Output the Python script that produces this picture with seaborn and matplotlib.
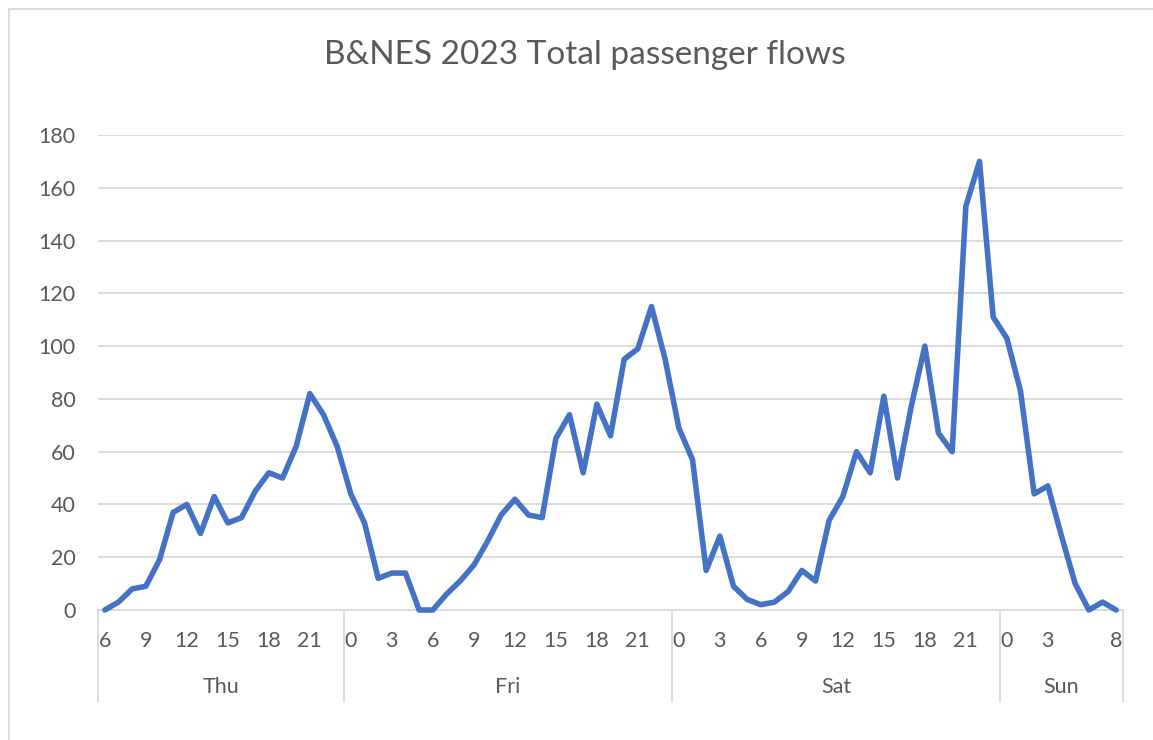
import numpy as np
import pandas as pd
import matplotlib
matplotlib.use("Agg")
import matplotlib.pyplot as plt
import matplotlib.transforms as mtransforms
from matplotlib.patches import Rectangle
import seaborn as sns

# ── data : hourly passenger flows, Thu 06:00 -> Sun 08:00 ──────
days = ["Thu", "Fri", "Sat", "Sun"]
thu_hours = list(range(6, 24))
fri_hours = list(range(0, 24))
sat_hours = list(range(0, 24))
sun_hours = list(range(0, 9))

thu_vals = [0, 3, 8, 9, 19, 37, 40, 29, 43, 33, 35, 45, 52, 50, 62, 82, 74, 62]
fri_vals = [44, 33, 12, 14, 14, 0, 0, 6, 11, 17, 26, 36, 42, 36, 35, 65, 74, 52,
            78, 66, 95, 99, 115, 95]
sat_vals = [69, 57, 15, 28, 9, 4, 2, 3, 7, 15, 11, 34, 43, 60, 52, 81, 50, 77,
            100, 67, 60, 153, 170, 111]
sun_vals = [103, 83, 44, 47, 28, 10, 0, 3, 0]

# hour labels Excel actually shows under each day
thu_labels = [6, 9, 12, 15, 18, 21]
fri_labels = [0, 3, 6, 9, 12, 15, 18, 21]
sat_labels = [0, 3, 6, 9, 12, 15, 18, 21]
sun_labels = [0, 3, 8]

title = "B&NES 2023 Total passenger flows"
y_ticks = [0, 20, 40, 60, 80, 100, 120, 140, 160, 180]

# ── build long table ────────────────────────────────────────
hours_by_day = [thu_hours, fri_hours, sat_hours, sun_hours]
vals_by_day = [thu_vals, fri_vals, sat_vals, sun_vals]
labels_by_day = [thu_labels, fri_labels, sat_labels, sun_labels]

rows = []
for d, hrs, vals in zip(days, hours_by_day, vals_by_day):
    for h, v in zip(hrs, vals):
        rows.append({"day": d, "hour": h, "flow": v})
df = pd.DataFrame(rows)
df["idx"] = np.arange(len(df))

# ── style ───────────────────────────────────────────────────
sns.set_style("white")
plt.rcParams["font.family"] = ["Lato", "DejaVu Sans"]
txt = "#595959"
grid_c = "#D9D9D9"
fs = 15.5

W, H = 1153, 740
fig = plt.figure(figsize=(W / 100, H / 100), dpi=100)
ax = fig.add_axes([98 / W, 1 - 610 / H, (1123 - 98) / W, (610 - 135) / H])

# outer chart border (partly cut off, like the screenshot)
fig.patches.append(Rectangle((9 / W, -0.1), 1.2, 1 - 9 / H + 0.1,
                             transform=fig.transFigure, fill=False,
                             edgecolor=grid_c, linewidth=1.3, zorder=0))

sns.lineplot(data=df, x="idx", y="flow", ax=ax, color="#4472C4",
             linewidth=4.0, clip_on=False, zorder=3)

ax.set_xlim(-0.5, len(df) - 0.5)
ax.set_ylim(0, 180)
ax.set_yticks(y_ticks)
ax.yaxis.grid(True, color=grid_c, linewidth=1.3)
ax.set_axisbelow(True)
ax.tick_params(axis="y", length=0, pad=16, labelsize=fs, labelcolor=txt)
ax.set_xticks([])
ax.set_xlabel("")
ax.set_ylabel("")
for s in ["top", "right", "left"]:
    ax.spines[s].set_visible(False)
ax.spines["bottom"].set_color(grid_c)
ax.spines["bottom"].set_linewidth(1.3)

# ── multi-level category axis ───────────────────────────────
trans = mtransforms.blended_transform_factory(ax.transData, ax.transAxes)
hour_y = (610 - 641) / 475
day_y = (610 - 687) / 475
sep_y = (610 - 702) / 475

start = 0
bounds = [-0.5]
for d, hrs, labs in zip(days, hours_by_day, labels_by_day):
    for h in labs:
        ax.text(start + hrs.index(h), hour_y, str(h), transform=trans,
                ha="center", va="center", fontsize=fs, color=txt)
    ax.text(start + (len(hrs) - 1) / 2, day_y, d, transform=trans,
            ha="center", va="center", fontsize=fs, color=txt)
    start += len(hrs)
    bounds.append(start - 0.5)

for b in bounds:
    ax.plot([b, b], [0, sep_y], transform=trans, color=grid_c,
            linewidth=1.3, clip_on=False)

fig.text(585 / W, 1 - 55 / H, title, ha="center", va="center",
         fontsize=24, color=txt)

plt.savefig("out.png", dpi=100)
